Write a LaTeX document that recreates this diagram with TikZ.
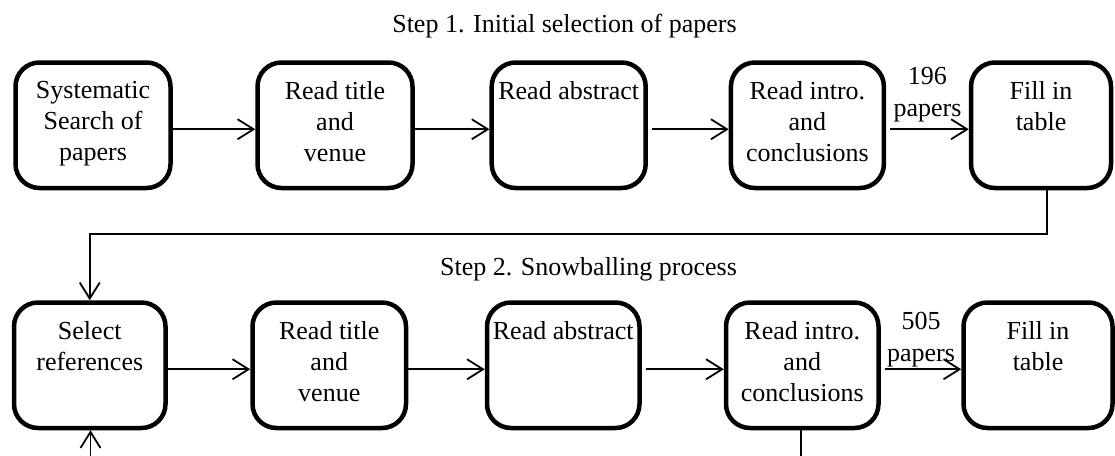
\documentclass[tikz,border=0pt]{standalone}
\usepackage{fontspec}
\setmainfont{Liberation Serif}
\usetikzlibrary{arrows.meta}

\tikzset{
  stage/.style={draw, rounded corners=24pt, line width=4.5pt, inner sep=0pt,
                minimum height=125.5pt},
  stagetext/.style={anchor=north, inner sep=0pt, align=center,
                    font=\fontsize{26}{31}\selectfont},
  flow/.style={line width=1.8pt, -{Straight Barb[length=16pt,width=20pt]}},
  plainline/.style={line width=1.8pt},
  count/.style={inner sep=0pt, align=center, font=\fontsize{26}{32}\selectfont},
  heading/.style={anchor=base, inner sep=0pt, font=\fontsize{26}{31}\selectfont}
}

\begin{document}
\begin{tikzpicture}[x=1pt, y=-1pt]
\useasboundingbox (0,0) rectangle (1115,455);
\clip (0,0) rectangle (1115,455);

% Step 1 row
\node[heading] (h1) at (564.5,32) {Step 1. Initial selection of papers};
\node[stage, minimum width=155pt] (b1) at (93,125.25) {};
\node[stage, minimum width=155pt] (b2) at (335,125.25) {};
\node[stage, minimum width=154pt] (b3) at (568.7,125.25) {};
\node[stage, minimum width=153pt] (b4) at (807.4,125.25) {};
\node[stage, minimum width=140pt] (b5) at (1041,125.25) {};

\node[stagetext] (t1) at ([yshift=-21pt]b1.north) {Systematic\\Search of\\papers};
\node[stagetext] (t2) at ([yshift=-21pt]b2.north) {Read title\\and\\venue};
\node[stagetext] (t3) at ([yshift=-21pt]b3.north) {Read abstract};
\node[stagetext] (t4) at ([yshift=-21pt]b4.north) {Read intro.\\and\\conclusions};
\node[stagetext] (t5) at ([yshift=-21pt]b5.north) {Fill in\\table};

\draw[flow] ([yshift=-4pt]b1.east) -- ([yshift=-4pt]b2.west);
\draw[flow] ([yshift=-4pt]b2.east) -- ([yshift=-4pt]b3.west);
\draw[flow, shorten <=4pt] ([yshift=-4pt]b3.east) -- ([yshift=-4pt]b4.west);
\draw[flow, shorten <=4pt] ([yshift=-4pt]b4.east) -- ([yshift=-4pt]b5.west)
  node[count, midway, above=6pt] (n1) {196\\papers};

% Step 2 row
\node[heading] (h2) at (588.5,275) {Step 2. Snowballing process};
\node[stage, minimum width=151.5pt] (c1) at (89.75,365.25) {};
\node[stage, minimum width=153.5pt] (c2) at (329.25,365.25) {};
\node[stage, minimum width=152.5pt] (c3) at (563.25,365.25) {};
\node[stage, minimum width=152.5pt] (c4) at (802.25,365.25) {};
\node[stage, minimum width=149pt] (c5) at (1038,365.25) {};

\node[stagetext] (s1) at ([yshift=-21pt]c1.north) {Select\\references};
\node[stagetext] (s2) at ([yshift=-21pt]c2.north) {Read title\\and\\venue};
\node[stagetext] (s3) at ([yshift=-21pt]c3.north) {Read abstract};
\node[stagetext] (s4) at ([yshift=-21pt]c4.north) {Read intro.\\and\\conclusions};
\node[stagetext] (s5) at ([yshift=-21pt]c5.north) {Fill in\\table};

\draw[flow] ([yshift=-4pt]c1.east) -- ([yshift=-4pt]c2.west);
\draw[flow] ([yshift=-4pt]c2.east) -- ([yshift=-4pt]c3.west);
\draw[flow, shorten <=4pt] ([yshift=-4pt]c3.east) -- ([yshift=-4pt]c4.west);
\draw[flow, shorten <=4pt] ([yshift=-4pt]c4.east) -- ([yshift=-4pt]c5.west)
  node[count, midway, above=1pt] (n2) {505\\papers};

% link from the first row into the snowballing loop
\coordinate (turn) at (90.5,234);
\draw[flow] ([xshift=6pt]b5.south) |- (turn) -- (turn -| c1.north) -- (c1.north);

% loop back from reading intro and conclusions
\coordinate (loopin) at (90.5,470);
\coordinate (loopout) at (801,470);
\draw[flow] (loopin) -- (loopin |- c1.south);
\draw[plainline] (c4.south -| loopout) -- (loopout);
\end{tikzpicture}
\end{document}
